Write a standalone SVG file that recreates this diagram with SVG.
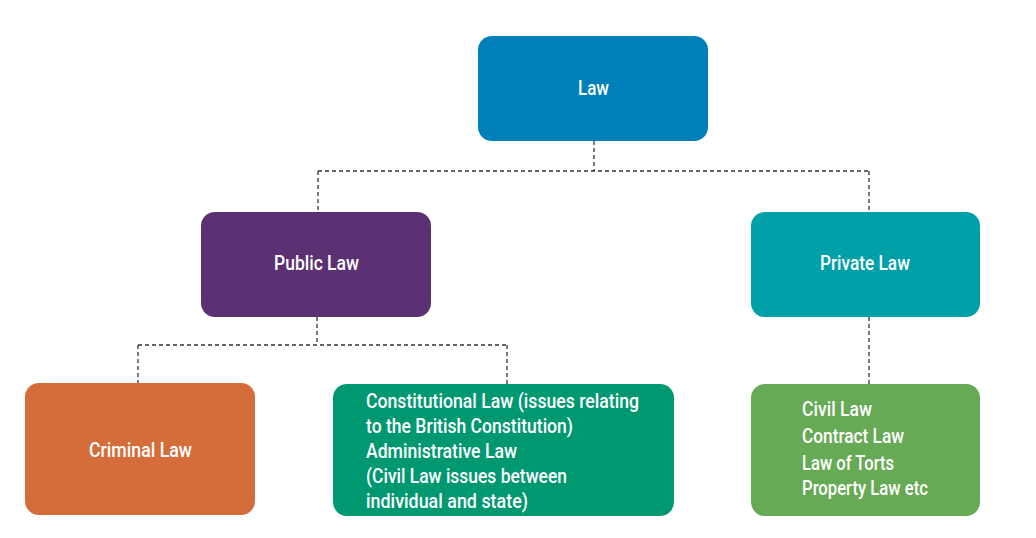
<svg xmlns="http://www.w3.org/2000/svg" width="1036" height="538" viewBox="0 0 1036 538">
<style>
.box{stroke:none}
.t{font-family:Roboto,"Liberation Sans",sans-serif;font-weight:500;font-size:21px;fill:#ffffff}
.c{text-anchor:middle}
.con{fill:none;stroke:#333333;stroke-width:1.3;stroke-dasharray:4 3}
</style>
<rect width="1036" height="538" fill="#ffffff"/>
<g id="connectors">
<path class="con" d="M594,141 V171 M318,171 H869 M318,171 V212 M869,171 V212"/>
<path class="con" d="M317,317 V345 M138,345 H507 M138,345 V383 M507,345 V384"/>
<path class="con" d="M869,317 V384"/>
</g>
<g id="law">
<rect class="box" x="478" y="36" width="230" height="105" rx="14" fill="#0080B8"/>
<text class="t c" x="593.5" y="95" textLength="31" lengthAdjust="spacingAndGlyphs">Law</text>
</g>
<g id="public-law">
<rect class="box" x="201" y="212" width="230" height="105" rx="14" fill="#5B3173"/>
<text class="t c" x="316.5" y="270" textLength="85" lengthAdjust="spacingAndGlyphs">Public Law</text>
</g>
<g id="private-law">
<rect class="box" x="751" y="212" width="229" height="105" rx="14" fill="#00A0A8"/>
<text class="t c" x="865" y="270" textLength="90" lengthAdjust="spacingAndGlyphs">Private Law</text>
</g>
<g id="criminal-law">
<rect class="box" x="25" y="383" width="230" height="132" rx="14" fill="#D56D3B"/>
<text class="t c" x="140.5" y="457" textLength="103" lengthAdjust="spacingAndGlyphs">Criminal Law</text>
</g>
<g id="constitutional-law">
<rect class="box" x="333" y="384" width="341" height="132" rx="14" fill="#009870"/>
<text class="t" x="366" y="408" textLength="273" lengthAdjust="spacingAndGlyphs">Constitutional Law (issues relating</text>
<text class="t" x="366" y="433" textLength="207" lengthAdjust="spacingAndGlyphs">to the British Constitution)</text>
<text class="t" x="366" y="458" textLength="151" lengthAdjust="spacingAndGlyphs">Administrative Law</text>
<text class="t" x="366" y="483" textLength="201" lengthAdjust="spacingAndGlyphs">(Civil Law issues between</text>
<text class="t" x="366" y="508" textLength="162" lengthAdjust="spacingAndGlyphs">individual and state)</text>
</g>
<g id="private-subtypes">
<rect class="box" x="751" y="384" width="229" height="132" rx="14" fill="#67AA55"/>
<text class="t" x="802" y="416" textLength="70" lengthAdjust="spacingAndGlyphs">Civil Law</text>
<text class="t" x="802" y="443" textLength="102" lengthAdjust="spacingAndGlyphs">Contract Law</text>
<text class="t" x="802" y="470" textLength="92" lengthAdjust="spacingAndGlyphs">Law of Torts</text>
<text class="t" x="802" y="495" textLength="126" lengthAdjust="spacingAndGlyphs">Property Law etc</text>
</g>
</svg>
